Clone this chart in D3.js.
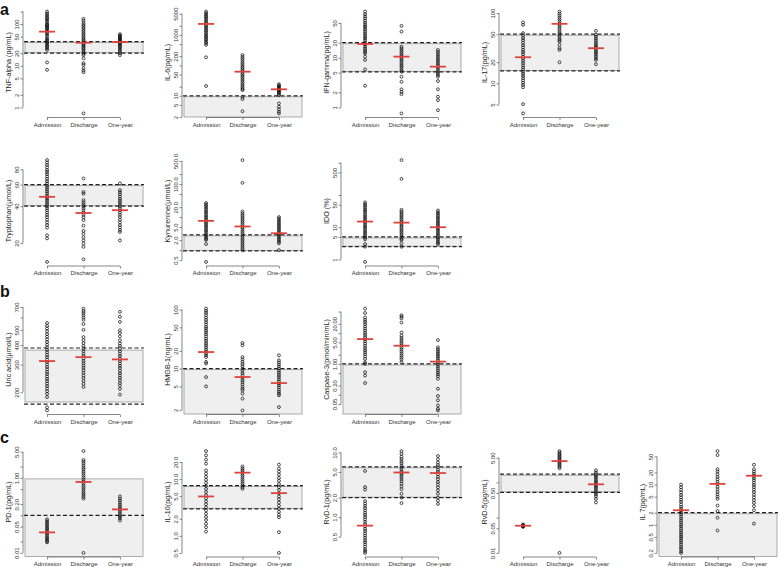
<!DOCTYPE html>
<html><head><meta charset="utf-8">
<script src="https://cdn.jsdelivr.net/npm/d3@7"></script>
<style>body{margin:0;background:#fff}svg{display:block}text{font-family:"Liberation Sans",Arial,Helvetica,sans-serif}</style>
</head><body><svg id="chart" width="778" height="567"></svg>
<script>
const groups = ["Admission", "Discharge", "One-year"];

// ---- a: TNF-alpha ----
const tnfAdm = [199,180,165,150,140,130,120,110,100,95,90,85,80,75,70,65,60,55,50,45,42,40,37,35,32,30,28,26,24,12,8];
const tnfDis = [133,120,105,95,88,80,72,66,60,55,50,46,42,39,36,33,31,29,27,25,23,21,19.5,18,15,11.5,10.5,8.7,7.7,7,0.72];
const tnfOne = [57,54,51,48,46,44,42,40,38,36,34,32,30,28,26,24,22,20,18];
const tnfMid = [65.7, 35.7, 37];
const tnfShade = [20, 38];
const tnfDash = [20, 38];
const tnfTicks = [1,2,5,10,20,50,100,200];
const tnfLabels = ["1","2","5","10","20","50","100",""];

// ---- IL-6 ----
const il6Adm = [5860,5200,4700,4200,3800,3400,3000,2700,2400,2100,1900,1700,1500,1350,1200,1050,950,850,750,680,600,540,470,184,21];
const il6Dis = [219,190,165,145,125,110,95,85,75,66,58,51,45,40,35,31,27,24,21,18.5,16.5,15.4,9.3,7.8,3.1];
const il6One = [23.8,22,20.5,19,17.5,16.5,15.5,14.5,13.5,12.5,11.5,10.5,5.6,4.35,3.56,3.0,2.63];
const il6Mid = [2300, 62, 16.3];
const il6Shade = [null, 10];
const il6Dash = [10];
const il6Ticks = [2,5,10,20,50,100,200,500,1000,2000,5000];
const il6Labels = ["2","5","10","","50","","200","","1000","","5000"];

// ---- IFN-gamma ----
const ifnAdm = [84.6,75,68,62,56,51,47,43,40,37,34,31,28.5,26,24,22,20,18.5,17,15.5,14.2,13,12.3,10.5,9,5.8,2.73];
const ifnDis = [43.6,33.5,16.7,15.5,14.3,13.2,12.2,11.3,10.5,9.7,9,8.3,7.7,7.1,6.6,6.1,5.6,5.2,4.14,3.28,2.31,2.06,1.85,0.757];
const ifnOne = [14.3,13,11.8,10.8,9.8,9,8.2,7.5,6.9,6.3,5.8,5.3,4.9,4.5,4.14,3.39,2.31,1.64,1.4,0.88];
const ifnMid = [18.9, 10.5, 6.6];
const ifnShade = [5.2, 20];
const ifnDash = [5.2, 20];
const ifnTicks = [1,2,5,10,20,50];
const ifnLabels = ["1","2","5","10","20","50"];

// ---- IL-17 ----
const il17Adm = [73.5,68,51.8,48,44,41,38,35,32.5,30,28,26,24,22.5,21,19.5,18,16.8,15.7,14.6,13.6,12.7,11.8,11,10.2,9.5,8.8,5.06,3.73];
const il17Dis = [105,98,92,86,81,76,71,67,63,59,55,52,49,46,43,41,39.3,35.3,31.6,29.9,19.9];
const il17One = [55.8,49,46,43,40.5,38,36,34,32,30,28.5,27,25.5,24,22.7,21.5,18.7];
const il17Mid = [23.5, 70.3, 31.6];
const il17Shade = [15, 50];
const il17Dash = [15, 50];
const il17Ticks = [5,10,20,50,100];
const il17Labels = ["5","10","20","50","100"];

// ---- Tryptophan ----
const trpAdm = [95.3,91,87,83,79,76,73,70,67,64,61.5,59,57,55,53,51,49,47.5,46,44.5,43,41.5,40,38.5,37,35.5,34,32.5,31,29.5,28,26.7,23.1,21.8,14.0];
const trpDis = [67.4,52.2,50.5,44.8,43,41.5,40,38.5,37,35.5,34,32.5,30.8,27.7,25.1,23.8,22.3,21.0,19.8,18.6,14.7];
const trpOne = [61.4,54,52,50,48,46,44.5,43,41.5,40,38.5,37,35.5,34,32.5,31,29.5,28,26.8,25.6,24.6,21.0];
const trpMid = [47.7, 35.2, 37.1];
const trpShade = [40, 60];
const trpDash = [40, 60];
const trpTicks = [20,40,60,80];
const trpLabels = ["20","40","60","80"];

// ---- Kynurenine ----
const kynAdm = [26.7,24,21.5,19,17,15,13.5,12,10.7,9.5,8.5,7.6,6.8,6.1,5.4,4.8,4.3,3.8,3.4,3.0,2.7,2.4,2.2,2.03,1.53,0.44];
const kynDis = [532,109,14.8,13,11.5,10,8.8,7.7,6.8,6,5.3,4.7,4.1,3.6,3.2,2.8,2.45,2.15,1.9,1.65,1.45,1.28,1.13,1.0];
const kynOne = [10,9,8,7.2,6.5,5.8,5.2,4.7,4.2,3.8,3.4,3.05,2.75,2.45,2.2,1.98,1.78,1.61,1.0];
const kynMid = [7.7, 5.2, 3.25];
const kynShade = [0.95, 2.9];
const kynDash = [0.95, 2.9];
const kynTicks = [0.5,1,2,5,10,20,50,100,200,500];
const kynLabels = ["0.5","","2.0","5.0","","20.0","","100.0","","500.0"];

// ---- IDO ----
const idoAdm = [58.7,52,46,41,36,32,28.5,25,22,19.5,17.5,15.5,13.8,12.2,10.8,9.6,8.5,7.5,6.7,5.9,5.3,4.7,4.2,3.0,2.5,0.84];
const idoDis = [1207,316,34.7,31,27.5,24.5,22,19.5,17.5,15.5,13.8,12.3,11,9.8,8.7,7.7,6.9,6.1,5.4,4.8,4.3,4.0,3.16,2.48];
const idoOne = [33,29,26,23,20.5,18.3,16.3,14.5,13,11.6,10.3,9.2,8.2,7.3,6.5,5.8,5.2,4.6,4.1,3.6,3.25,3.0];
const idoMid = [15, 13.9, 10];
const idoShade = [2.5, 5];
const idoDash = [2.5, 5];
const idoTicks = [1,5,10,50,100,500,1000];
const idoLabels = ["1","5","10","50","","500",""];

// ---- b: Uric acid ----
const uaAdm = [553,530,510,490,470,452,435,418,402,387,373,360,347,335,323,312,301,290,280,270,261,252,243,235,227,219,211,203,195,186,160,153];
const uaDis = [684,660,640,620,600,580,545,500,450,430,412,395,380,366,352,340,328,317,306,296,286,276,266,256,246,236,226,216];
const uaOne = [652,606,562,497,478,455,428,410,395,380,366,352,340,328,316,305,295,285,275,265,256,247,238,229,220,210,193];
const uaMid = [316, 335, 324];
const uaShade = [172, 377];
const uaDash = [168, 383];
const uaTicks = [200,300,400,500,600,700];
const uaLabels = ["200","300","400","500","","700"];

// ---- HMGB-1 ----
const hmAdm = [104,95,88,80,73,67,61,56,51,47.6,44,41,38,35,32,29.5,27,25,23,21.2,19.6,18.2,16.9,15.7,13,12.2,7.2,5.0];
const hmDis = [27.2,24.8,15.7,14.3,13.1,12,11,10,9.2,8.4,7.7,7.0,6.4,5.9,5.4,4.95,4.55,4.29,3.77,3.1,1.96];
const hmOne = [16.8,13.8,12.7,11.7,10.8,10,9.2,8.5,7.8,7.2,6.6,6.1,5.6,5.2,4.8,4.4,4.05,3.75,3.54,2.23];
const hmMid = [19.1, 7.2, 5.7];
const hmShade = [null, 10];
const hmDash = [10];
const hmTicks = [2,5,10,20,50,100];
const hmLabels = ["2","5","10","20","50","100"];

// ---- Caspase-3 ----
const casAdm = [62.6,45,32,27,23,19.5,16.5,14,12,10.2,8.7,7.4,6.3,5.4,4.6,3.9,3.3,2.8,2.4,2.05,1.75,1.45,1.13,1.0,0.54,0.42,0.24];
const casDis = [38,34,30,22,10.5,8.2,7,6,5.2,4.5,3.9,3.35,2.9,2.5,2.15,1.85,1.6,1.38,1.13];
const casOne = [5.95,3.45,3.0,2.6,2.25,1.95,1.7,1.48,1.28,1.1,0.95,0.82,0.71,0.61,0.53,0.46,0.4,0.33,0.156,0.091,0.066,0.045,0.035,0.031];
const casMid = [6.4, 3.9, 1.19];
const casShade = [null, 1];
const casDash = [1];
const casTicks = [0.05,0.1,0.2,0.5,1,2,5,10,20,50];
const casLabels = ["0.05","","0.20","","1.00","","5.00","","20.00",""];

// ---- c: PD-1 ----
const pdAdm = [0.078,0.07,0.063,0.057,0.052,0.047,0.043,0.039,0.035,0.032,0.029,0.026,0.024,0.022,0.02,0.019];
const pdDis = [5.2,3.0,2.7,2.4,2.1,1.85,1.65,1.45,1.3,1.15,1.02,0.9,0.8,0.71,0.63,0.56,0.5,0.44,0.39,0.35,0.31,0.28,0.0099];
const pdOne = [0.32,0.28,0.25,0.22,0.195,0.175,0.155,0.14,0.125,0.112,0.1,0.09,0.082,0.073];
const pdMid = [0.035, 0.78, 0.144];
const pdShade = [null, 1];
const pdDash = [0.1];
const pdTicks = [0.01,0.02,0.05,0.1,0.2,0.5,1,2,5];
const pdLabels = ["0.01","","0.05","","0.20","","1.00","","5.00"];

// ---- IL-10 ----
const il10Adm = [31.2,26.2,22,18.7,14.2,12.5,11,9.7,8.6,7.6,6.7,5.9,5.2,4.6,4.05,3.6,3.15,2.8,2.45,2.15,1.9,1.63,1.42,1.19];
const il10Dis = [16.7,15.5,14.4,13.4,12.4,11.5,10.6,9.8,9.1,8.4,7.8,7.2,6.76];
const il10One = [18,15.3,13.5,12,10.5,9.3,8.2,7.2,6.4,5.6,4.95,4.4,3.85,3.4,3.0,2.65,2.35,2.13,1.16,0.5];
const il10Mid = [4.95, 13.0, 5.66];
const il10Shade = [3.0, 7.7];
const il10Dash = [3.0, 7.7];
const il10Ticks = [0.5,1,2,5,10,20];
const il10Labels = ["0.5","1.0","2.0","5.0","10.0","20.0"];

// ---- RvD-1 ----
const rvd1Adm = [5.18,2.92,2.66,1.77,1.62,1.5,1.38,1.27,1.17,1.08,1.0,0.92,0.85,0.78,0.72,0.66,0.61,0.56,0.52,0.48,0.44,0.41,0.38,0.35,0.32,0.3,0.28];
const rvd1Dis = [10.5,9.5,8.6,7.9,7.3,6.8,6.3,5.9,5.5,5.1,4.8,4.5,4.2,3.9,3.6,3.3,3.0,2.7,2.3,2.0,1.65];
const rvd1One = [8.8,7.8,7.0,6.4,5.9,5.4,5.0,4.6,4.2,3.85,3.5,3.2,2.9,2.6,2.3,2.0,1.8,1.6];
const rvd1Mid = [0.74, 4.9, 4.8];
const rvd1Shade = [2.0, 6.0];
const rvd1Dash = [2.0, 6.0];
const rvd1Ticks = [0.5,1,2,5,10];
const rvd1Labels = ["0.5","1.0","2.0","5.0","10.0"];

// ---- RvD-5 ----
const rvd5Adm = [0.064,0.062,0.06,0.058,0.057,0.056,0.055];
const rvd5Dis = [7.7,7.0,6.4,5.9,5.4,5.0,4.6,4.2,3.9,3.6,3.3,3.0,2.75,2.5,0.01];
const rvd5One = [2.2,1.9,1.7,1.5,1.35,1.2,1.08,0.97,0.87,0.78,0.7,0.63,0.56,0.5,0.45,0.4,0.34,0.27];
const rvd5Mid = [0.059, 4.0, 0.88];
const rvd5Shade = [0.52, 1.7];
const rvd5Dash = [0.52, 1.7];
const rvd5Ticks = [0.01,0.05,0.1,0.5,1,5];
const rvd5Labels = ["0.01","0.05","","0.50","","5.00"];

// ---- IL 7 ----
const il7Adm = [10,8.6,7.4,6.4,5.5,4.8,4.2,3.7,3.2,2.8,2.5,2.25,2.0,1.8,1.6,1.42,1.27,1.13,1.0,0.9,0.8,0.71,0.63,0.56,0.5,0.45,0.4,0.36,0.32,0.28,0.25,0.22,0.2];
const il7Dis = [68,54,24,21,18,15.5,13.5,11.7,10.2,8.8,7.6,6.6,5.7,5.0,4.4,3.0,2.2,1.5,0.72];
const il7One = [31,24,21,18.5,16.5,14.5,12.8,11.2,9.8,8.6,7.5,6.5,5.6,4.8,4.1,3.5,2.9,2.3,1.07];
const il7Mid = [2.3, 10.4, 16.6];
const il7Shade = [null, 2];
const il7Dash = [2];
const il7Ticks = [0.2,0.5,1,2,5,10,20,50];
const il7Labels = ["0.2","0.5","1","2","5","10","20","50"];

const panels = [
  {title:"TNF-alpha (pg/mL)", col:0,row:0, d:[tnfAdm,tnfDis,tnfOne], mid:tnfMid, shade:tnfShade, dash:tnfDash, ticks:tnfTicks, labels:tnfLabels},
  {title:"IL-6(pg/mL)", col:1,row:0, d:[il6Adm,il6Dis,il6One], mid:il6Mid, shade:il6Shade, dash:il6Dash, ticks:il6Ticks, labels:il6Labels},
  {title:"IFN-gamma(pg/mL)", col:2,row:0, d:[ifnAdm,ifnDis,ifnOne], mid:ifnMid, shade:ifnShade, dash:ifnDash, ticks:ifnTicks, labels:ifnLabels},
  {title:"IL-17(pg/mL)", col:3,row:0, d:[il17Adm,il17Dis,il17One], mid:il17Mid, shade:il17Shade, dash:il17Dash, ticks:il17Ticks, labels:il17Labels},
  {title:"Tryptophan(μmol/L)", col:0,row:1, d:[trpAdm,trpDis,trpOne], mid:trpMid, shade:trpShade, dash:trpDash, ticks:trpTicks, labels:trpLabels},
  {title:"Kynurenine(μmol/L)", col:1,row:1, d:[kynAdm,kynDis,kynOne], mid:kynMid, shade:kynShade, dash:kynDash, ticks:kynTicks, labels:kynLabels},
  {title:"IDO (%)", col:2,row:1, d:[idoAdm,idoDis,idoOne], mid:idoMid, shade:idoShade, dash:idoDash, ticks:idoTicks, labels:idoLabels},
  {title:"Uric acid(μmol/L)", col:0,row:2, d:[uaAdm,uaDis,uaOne], mid:uaMid, shade:uaShade, dash:uaDash, ticks:uaTicks, labels:uaLabels},
  {title:"HMGB-1(ng/mL)", col:1,row:2, d:[hmAdm,hmDis,hmOne], mid:hmMid, shade:hmShade, dash:hmDash, ticks:hmTicks, labels:hmLabels},
  {title:"Caspase-3(pmol/min/mL)", col:2,row:2, d:[casAdm,casDis,casOne], mid:casMid, shade:casShade, dash:casDash, ticks:casTicks, labels:casLabels},
  {title:"PD-1(pg/mL)", col:0,row:3, d:[pdAdm,pdDis,pdOne], mid:pdMid, shade:pdShade, dash:pdDash, ticks:pdTicks, labels:pdLabels},
  {title:"IL-10(pg/mL)", col:1,row:3, d:[il10Adm,il10Dis,il10One], mid:il10Mid, shade:il10Shade, dash:il10Dash, ticks:il10Ticks, labels:il10Labels},
  {title:"RvD-1(pg/mL)", col:2,row:3, d:[rvd1Adm,rvd1Dis,rvd1One], mid:rvd1Mid, shade:rvd1Shade, dash:rvd1Dash, ticks:rvd1Ticks, labels:rvd1Labels},
  {title:"RvD-5(pg/mL)", col:3,row:3, d:[rvd5Adm,rvd5Dis,rvd5One], mid:rvd5Mid, shade:rvd5Shade, dash:rvd5Dash, ticks:rvd5Ticks, labels:rvd5Labels},
  {title:"IL 7(pg/mL)", col:4,row:3, d:[il7Adm,il7Dis,il7One], mid:il7Mid, shade:il7Shade, dash:il7Dash, ticks:il7Ticks, labels:il7Labels}
];

const sectionLabels = [{t:"a", row:0},{t:"b", row:2},{t:"c", row:3}];

const colLeft = [23, 182, 341, 499, 657];
const rowTop = [7.5, 156, 304.5, 447];
const plotW = 121, plotH = 110;

const svg = d3.select("#chart");

sectionLabels.forEach(s => {
  svg.append("text").attr("x", 0).attr("y", rowTop[s.row] + (s.row===0?7:(s.row===2?-7.5:-4)))
    .attr("font-size", 16).attr("font-weight", "bold").attr("fill", "#111").text(s.t);
});

panels.forEach(p => {
  const left = colLeft[p.col], top = rowTop[p.row];
  const bottom = top + plotH;
  const g = svg.append("g");
  const x = d3.scaleLinear().domain([0.34, 3.66]).range([left, left + plotW]);
  const all = p.d.flat();
  const lmin = Math.log10(d3.min(all)), lmax = Math.log10(d3.max(all));
  const pad = (lmax - lmin) * 0.04;
  const y = d3.scaleLog().domain([Math.pow(10, lmin - pad), Math.pow(10, lmax + pad)]).range([bottom, top]);

  // reference shading
  const yHi = y(p.shade[1]);
  const yLo = p.shade[0] == null ? bottom : y(p.shade[0]);
  g.append("rect").attr("x", left + 2).attr("width", plotW - 3)
    .attr("y", yHi + 1).attr("height", Math.max(0, yLo - yHi - 1.5))
    .attr("fill", "#efefef").attr("stroke", "#9a9a9a").attr("stroke-width", 0.8);
  p.dash.forEach(v => {
    g.append("line").attr("x1", left + 1).attr("x2", left + plotW)
      .attr("y1", y(v)).attr("y2", y(v))
      .attr("stroke", "#222").attr("stroke-width", 1.2).attr("stroke-dasharray", "4,2.5");
  });

  // y axis
  const tks = p.ticks.map((v,i)=>({v, l:p.labels[i]})).filter(t => y(t.v) >= top - 0.5 && y(t.v) <= bottom + 0.5);
  const yAxis = d3.axisLeft(y).tickValues(tks.map(t=>t.v)).tickSize(2.5).tickPadding(2)
    .tickFormat((v)=> { const t = tks.find(t=>t.v===v); return t ? t.l : ""; });
  const ya = g.append("g").attr("transform", `translate(${left},0)`).call(yAxis);
  ya.select(".domain").attr("d", `M-0,${y(tks[0].v)}V${y(tks[tks.length-1].v)}`).attr("stroke", "#555").attr("stroke-width", 0.7);
  ya.selectAll(".tick line").attr("stroke", "#555").attr("stroke-width", 0.7);
  ya.selectAll(".tick text").attr("font-size", 6).attr("fill", "#333")
    .attr("transform", "rotate(-90)").attr("x", 0).attr("y", -4.5).attr("dy", 0)
    .attr("text-anchor", "middle").attr("font-family", "'Liberation Sans', Arial, sans-serif");
  // y title
  g.append("text").attr("transform", `translate(${left - 12},${(top + bottom)/2}) rotate(-90)`)
    .attr("text-anchor", "middle").attr("font-size", 7.2).attr("fill", "#222").text(p.title);

  // x axis
  const xAxis = d3.axisBottom(x).tickValues([1,2,3]).tickSize(2.5).tickPadding(2.5)
    .tickFormat((d)=>groups[d-1]);
  const xa = g.append("g").attr("transform", `translate(0,${bottom})`).call(xAxis);
  xa.select(".domain").attr("d", `M${x(1)},0H${x(3)}`).attr("stroke", "#555").attr("stroke-width", 0.7);
  xa.selectAll(".tick line").attr("stroke", "#555").attr("stroke-width", 0.7);
  xa.selectAll(".tick text").attr("font-size", 6).attr("fill", "#333")
    .attr("font-family", "'Liberation Sans', Arial, sans-serif");

  // points
  p.d.forEach((vals, gi) => {
    g.append("g").selectAll("circle").data(vals).join("circle")
      .attr("cx", x(gi + 1)).attr("cy", d => y(d)).attr("r", 1.45)
      .attr("fill", "none").attr("stroke", "#111").attr("stroke-width", 0.75);
  });
  // median bars
  g.append("g").selectAll("line").data(p.mid).join("line")
    .attr("x1", (d,i)=> x(i+1) - 8).attr("x2", (d,i)=> x(i+1) + 8)
    .attr("y1", d => y(d)).attr("y2", d => y(d))
    .attr("stroke", "#e2403a").attr("stroke-width", 1.8);
});
</script></body></html>
